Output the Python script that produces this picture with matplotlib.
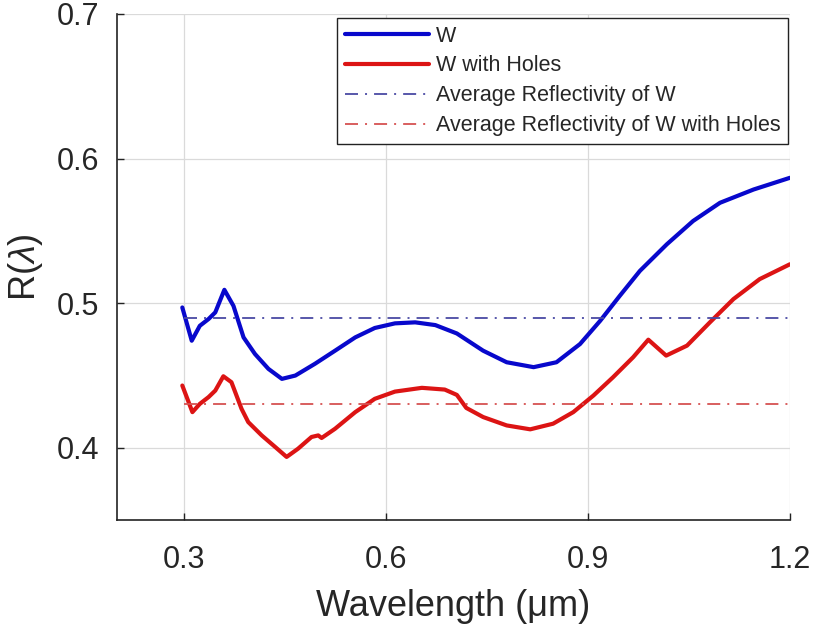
import matplotlib
matplotlib.use("Agg")
import matplotlib.pyplot as plt

plt.rcParams['font.family'] = ['Liberation Sans', 'DejaVu Sans']
plt.rcParams['mathtext.fontset'] = 'custom'
plt.rcParams['mathtext.it'] = 'Liberation Sans:italic'
plt.rcParams['mathtext.rm'] = 'Liberation Sans'

# Data
w_x = [0.297, 0.311, 0.323, 0.336, 0.346, 0.3595, 0.373, 0.388, 0.405, 0.425,
       0.445, 0.465, 0.494, 0.524, 0.554, 0.583, 0.613, 0.643, 0.673, 0.705,
       0.744, 0.779, 0.819, 0.853, 0.888, 0.918, 0.947, 0.977, 1.017, 1.056,
       1.096, 1.146, 1.200]
w_y = [0.497, 0.474, 0.4843, 0.489, 0.4936, 0.5092, 0.4981, 0.4763, 0.4648, 0.4545,
       0.4476, 0.4499, 0.458, 0.4671, 0.4763, 0.4828, 0.486, 0.4867, 0.4848, 0.479,
       0.4671, 0.4591, 0.4557, 0.4591, 0.4717, 0.4878, 0.505, 0.5223, 0.5407, 0.5568,
       0.5694, 0.5786, 0.5867]

h_x = [0.297, 0.312, 0.323, 0.336, 0.346, 0.358, 0.370, 0.385, 0.395, 0.415,
       0.435, 0.452, 0.469, 0.489, 0.499, 0.504, 0.524, 0.554, 0.583, 0.613,
       0.653, 0.687, 0.705, 0.719, 0.744, 0.779, 0.814, 0.848, 0.878, 0.908,
       0.937, 0.967, 0.9895, 1.016, 1.047, 1.081, 1.116, 1.155, 1.200]
h_y = [0.443, 0.4246, 0.4303, 0.435, 0.4395, 0.4494, 0.4453, 0.4269, 0.4177, 0.4085,
       0.4005, 0.3936, 0.3993, 0.4074, 0.4085, 0.4067, 0.4131, 0.4246, 0.4338, 0.4388,
       0.4414, 0.4402, 0.4365, 0.4275, 0.4212, 0.4154, 0.4127, 0.4166, 0.4246, 0.4361,
       0.4487, 0.4626, 0.4747, 0.4637, 0.4706, 0.4867, 0.5028, 0.5166, 0.5269]

avg_x = [0.3, 1.2]
avg_w = 0.490
avg_h = 0.430

labels = ['W', 'W with Holes', 'Average Reflectivity of W',
          'Average Reflectivity of W with Holes']
x_ticks = [0.3, 0.6, 0.9, 1.2]
y_ticks = [0.4, 0.5, 0.6, 0.7]

txt = '#262626'
dashdot = (0, (7.2, 3.9, 1.1, 3.9))

fig = plt.figure(figsize=(8.15, 6.27), dpi=100)
ax = fig.add_axes([0.1436, 0.1707, 0.8257, 0.807])

ax.plot(w_x, w_y, color='#0808cc', lw=3.0, label=labels[0],
        solid_joinstyle='round', solid_capstyle='round')
ax.plot(h_x, h_y, color='#dc1414', lw=3.0, label=labels[1],
        solid_joinstyle='round', solid_capstyle='round')
ax.plot(avg_x, [avg_w, avg_w], color='#4a4aa4', lw=1.3,
        linestyle=dashdot, label=labels[2])
ax.plot(avg_x, [avg_h, avg_h], color='#d65252', lw=1.3,
        linestyle=dashdot, label=labels[3])

ax.set_xlim(0.2, 1.2)
ax.set_ylim(0.35, 0.7)
ax.set_xticks(x_ticks)
ax.set_xticklabels([f'{v:.1f}' for v in x_ticks])
ax.set_yticks(y_ticks)
ax.set_yticklabels([f'{v:.1f}' for v in y_ticks])

ax.grid(True, color='#dadada', lw=0.9)
ax.set_axisbelow(True)
for s in ['top', 'right']:
    ax.spines[s].set_visible(False)
for s in ['left', 'bottom']:
    ax.spines[s].set_color('#222222')
    ax.spines[s].set_linewidth(1.2)

ax.tick_params(axis='x', direction='in', length=5, width=1, colors='#222222',
               labelsize=22, labelcolor=txt, pad=18)
ax.tick_params(axis='y', direction='in', length=5, width=1, colors='#222222',
               labelsize=22, labelcolor=txt, pad=13)

ax.set_xlabel('Wavelength (μm)', fontsize=26, color=txt, labelpad=10)
ax.set_ylabel(r'R($\lambda$)', fontsize=26, color=txt, labelpad=8)

leg = ax.legend(loc='upper right', bbox_to_anchor=(0.997, 0.992), borderaxespad=0,
                fontsize=15.5, handlelength=3.9, handletextpad=0.33,
                labelspacing=0.41, borderpad=0.35, fancybox=False,
                edgecolor='#222222', framealpha=1)
leg.get_frame().set_linewidth(1.0)
for t in leg.get_texts():
    t.set_color(txt)

fig.savefig('out.png', dpi=100)
